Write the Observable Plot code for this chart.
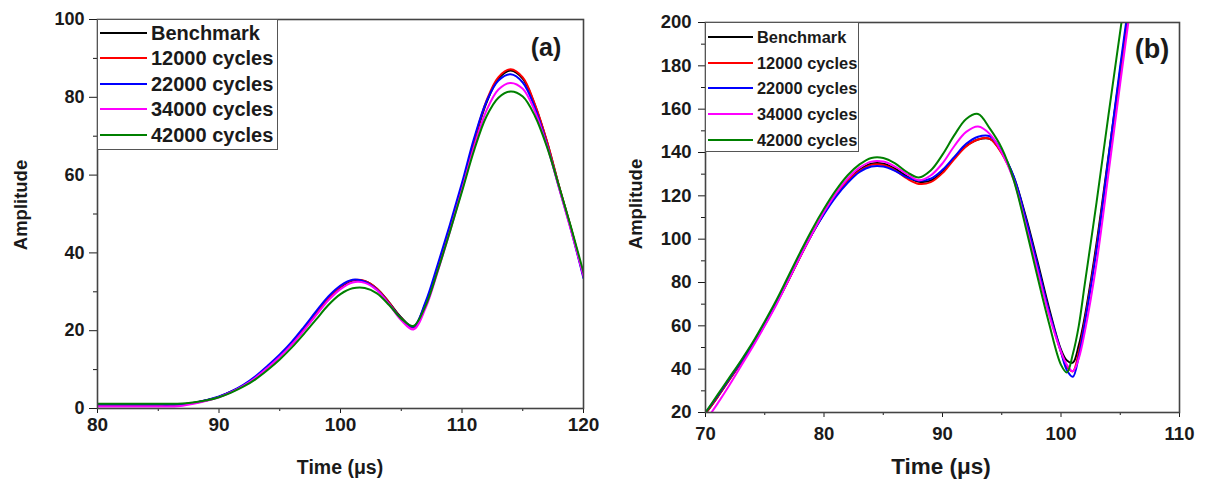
<!DOCTYPE html>
<html>
<head>
<meta charset="utf-8">
<script src="https://cdn.jsdelivr.net/npm/d3@7"></script>
<script src="https://cdn.jsdelivr.net/npm/@observablehq/plot@0.6"></script>
<style>
  body { margin: 0; background: #fff; }
  #wrap { position: relative; width: 1205px; height: 484px; overflow: hidden; background: #fff;
          font-family: "Liberation Sans", Arial, sans-serif; color: #1a1a1a; }
  .panel { position: absolute; top: 0; }
  .lbl { position: absolute; font-weight: bold; white-space: nowrap; line-height: 1; }
  .legend { position: absolute; background: #fff; border: 1px solid #555; box-sizing: border-box; }
  .lrow { position: absolute; left: 0; right: 0; height: 0; }
  .lline { position: absolute; height: 2px; margin-top: -1px; }
  .ltext { position: absolute; font-weight: bold; white-space: nowrap; line-height: 1; transform: translateY(-50%); }
</style>
</head>
<body>
<div id="wrap"></div>
<script>
// ---------- data ----------
const seriesNames = ["Benchmark", "12000 cycles", "22000 cycles", "34000 cycles", "42000 cycles"];
const seriesColors = ["#000000", "#ff0000", "#0000ff", "#ff00ff", "#008000"];

// Panel (a)
const timeA = [80,81,82,83,84,85,86,87,88,89,90,91,92,93,94,95,96,97,98,99,100,
               101,102,103,104,105,106,107,108,109,110,111,112,113,114,115,116,117,118,119,120];
const benchmarkA = [1.0,1.0,1.0,1.0,1.0,1.0,1.0,1.1,1.5,2.1,3.0,4.3,5.9,8.0,10.6,13.4,16.6,20.3,24.3,28.2,31.2,
                    32.9,32.7,30.8,27.3,23.4,20.9,27.0,36.0,46.0,57.0,68.5,78.5,84.8,86.9,84.8,78.0,68.5,57.0,46.0,34.0];
const c12000A = [1.0,1.0,1.0,1.0,1.0,1.0,1.0,1.1,1.5,2.1,3.0,4.3,5.9,8.0,10.6,13.5,16.8,20.5,24.5,28.4,31.4,
                 33.0,32.8,30.8,27.2,23.2,20.8,26.8,36.0,46.0,57.0,68.8,79.0,85.2,87.2,85.1,78.2,68.6,57.0,46.0,34.0];
const c22000A = [1.0,1.0,1.0,1.0,1.0,1.0,1.0,1.1,1.5,2.2,3.1,4.4,6.1,8.3,11.0,13.9,17.2,21.0,25.0,28.8,31.6,
                 33.1,32.6,30.5,26.9,23.1,21.0,27.4,37.0,47.2,58.0,69.5,78.8,84.3,85.9,83.8,77.3,67.8,56.6,45.6,33.5];
const c34000A = [0.5,0.5,0.5,0.5,0.5,0.5,0.5,0.7,1.3,2.0,2.9,4.2,5.8,7.9,10.5,13.3,16.5,20.1,24.0,27.8,30.7,
                 32.4,32.3,30.4,26.8,22.7,20.3,25.8,35.2,45.4,56.2,67.3,76.5,82.0,83.7,82.2,76.4,67.5,56.5,45.5,34.0];
const c42000A = [1.2,1.2,1.2,1.2,1.2,1.2,1.2,1.3,1.6,2.1,2.9,4.1,5.6,7.5,9.9,12.6,15.7,19.2,22.9,26.6,29.4,
                 30.9,31.0,29.6,26.6,23.1,21.2,26.4,35.4,45.4,55.8,66.4,75.0,79.9,81.5,80.2,75.2,67.2,57.0,46.3,35.0];

// Panel (b)
const timeB = [70,71,72,73,74,75,76,77,78,79,80,81,82,83,84,85,86,87,88,89,90,
               91,92,93,94,95,96,97,98,99,100,100.5,101,101.5,102,103,104,105,106];
const benchmarkB = [19.5,27,35,43,51.5,60.5,70.5,81,92,102.5,112,120.5,127,132,134.8,134.8,132.5,129,126.5,127,131,
                    137.5,143,146,146.3,140,129,111,90,68,49,44,43,51,64,98,138,178,218];
const c12000B = [19.5,27,35,43,51.5,60.5,70.5,81,92,102.5,112,120.5,127,131.5,134.3,134.2,131.8,128,125.5,126.3,130.5,
                 137,142.8,146,146.3,139.5,128,109.5,88,66,48,41,39,48,62,96,136,177,217];
const c22000B = [20,27.5,35.5,43.5,52,61,71,81.5,92.5,102.5,111.5,119.5,126,131,133.5,133.5,131.5,128.5,127,127.9,132,
                 138,144,147.3,147.5,140.5,129,110,88.5,66.5,48,39.5,36.5,46,61,95,137,180,220];
const c34000B = [16,24,32.5,41.5,50.5,60,70,81,92,102.5,112.5,121,128,133,135.8,135.8,133.5,130,127.2,129.4,135,
                 143,149.5,152,148.5,140,127.5,107.5,86,65,48,42,39,45,57,89,130,172,213];
const c42000B = [20,28,36,44,52.5,62,72,83,94,104.5,114,122.5,129.5,134.5,137.5,137.5,135,131,128.5,131.7,139,
                 148,155.5,157.8,151,142,127.5,106,83,61,42,38.5,47,60,79,117,157,196,235];

const ticksAx = [80, 90, 100, 110, 120], minorAx = [85, 95, 105, 115];
const ticksAy = [0, 20, 40, 60, 80, 100], minorAy = [10, 30, 50, 70, 90];
const ticksBx = [70, 80, 90, 100, 110], minorBx = [75, 85, 95, 105];
const ticksBy = [20, 40, 60, 80, 100, 120, 140, 160, 180, 200], minorBy = [30, 50, 70, 90, 110, 130, 150, 170, 190];

// ---------- drawing ----------
const FONT = "Liberation Sans, Arial, sans-serif";
const wrap = document.getElementById("wrap");

function makePanel(cfg) {
  const marks = [
    Plot.axisY({ticks: cfg.yMinor, tickSize: 4, tickFormat: () => "", label: null}),
    Plot.axisX({ticks: cfg.xMinor, tickSize: 3, tickFormat: () => "", label: null}),
    Plot.axisY({ticks: cfg.yMajor, tickSize: cfg.yTick, tickPadding: cfg.yPad, label: null,
                fontSize: cfg.yFont, fontWeight: "bold", fontFamily: FONT}),
    Plot.axisX({ticks: cfg.xMajor, tickSize: 5, tickPadding: cfg.xPad, label: null,
                fontSize: cfg.xFont, fontWeight: "bold", fontFamily: FONT})
  ];
  cfg.series.forEach((vals, i) => {
    const rows = cfg.times.map((t, j) => ({t, v: vals[j]}));
    marks.push(Plot.line(rows, {x: "t", y: "v", stroke: seriesColors[i], strokeWidth: 2,
                                curve: "catmull-rom", clip: true}));
  });
  marks.push(Plot.frame({stroke: "#444", strokeWidth: 1.6}));
  const svg = Plot.plot({
    width: cfg.width, height: 484,
    marginLeft: cfg.ml, marginRight: cfg.mr, marginTop: cfg.mt, marginBottom: cfg.mb,
    x: {domain: cfg.xDomain, label: null},
    y: {domain: cfg.yDomain, label: null},
    style: {fontFamily: FONT, fontWeight: "bold", color: "#1a1a1a", background: "transparent", overflow: "visible"},
    marks
  });
  svg.classList.add("panel");
  svg.style.left = cfg.left + "px";
  wrap.appendChild(svg);
}

makePanel({
  left: 0, width: 600, ml: 97, mr: 17, mt: 19, mb: 76,
  xDomain: [80, 120], yDomain: [0, 100],
  xMajor: ticksAx, xMinor: minorAx, yMajor: ticksAy, yMinor: minorAy,
  yTick: 8, yPad: 5, xPad: 4, xFont: 19, yFont: 18,
  times: timeA, series: [benchmarkA, c12000A, c22000A, c34000A, c42000A]
});
makePanel({
  left: 600, width: 605, ml: 105, mr: 26, mt: 22, mb: 72,
  xDomain: [70, 110], yDomain: [20, 200],
  xMajor: ticksBx, xMinor: minorBx, yMajor: ticksBy, yMinor: minorBy,
  yTick: 7, yPad: 7, xPad: 9, xFont: 18.5, yFont: 18.5,
  times: timeB, series: [benchmarkB, c12000B, c22000B, c34000B, c42000B]
});

function label(text, x, y, size, rotate) {
  const d = document.createElement("div");
  d.className = "lbl";
  d.textContent = text;
  d.style.left = x + "px";
  d.style.top = y + "px";
  d.style.fontSize = size + "px";
  d.style.transform = "translate(-50%,-50%)" + (rotate ? " rotate(-90deg)" : "");
  wrap.appendChild(d);
}
label("Time (μs)", 340, 468, 19.5);
label("Amplitude", 21, 205, 18.5, true);
label("(a)", 546, 47, 25);
label("Time (μs)", 941, 467, 22.5);
label("Amplitude", 636, 204, 18.5, true);
label("(b)", 1152, 49, 27);

function legend(cfg) {
  const box = document.createElement("div");
  box.className = "legend";
  Object.assign(box.style, {left: cfg.x + "px", top: cfg.y + "px", width: cfg.w + "px", height: cfg.h + "px"});
  seriesNames.forEach((name, i) => {
    const row = document.createElement("div");
    row.className = "lrow";
    row.style.top = (cfg.firstRow + i * cfg.step) + "px";
    const ln = document.createElement("div");
    ln.className = "lline";
    Object.assign(ln.style, {left: cfg.lineX + "px", width: cfg.lineW + "px", background: seriesColors[i]});
    const tx = document.createElement("div");
    tx.className = "ltext";
    tx.textContent = name;
    Object.assign(tx.style, {left: cfg.textX + "px", fontSize: cfg.font + "px"});
    row.appendChild(ln); row.appendChild(tx);
    box.appendChild(row);
  });
  wrap.appendChild(box);
}
legend({x: 97, y: 19, w: 181, h: 131, firstRow: 13, step: 25.4, lineX: 2, lineW: 47, textX: 53, font: 20});
legend({x: 705, y: 22, w: 154, h: 130, firstRow: 14, step: 25.7, lineX: 2, lineW: 45, textX: 51, font: 16.4});
</script>
</body>
</html>
